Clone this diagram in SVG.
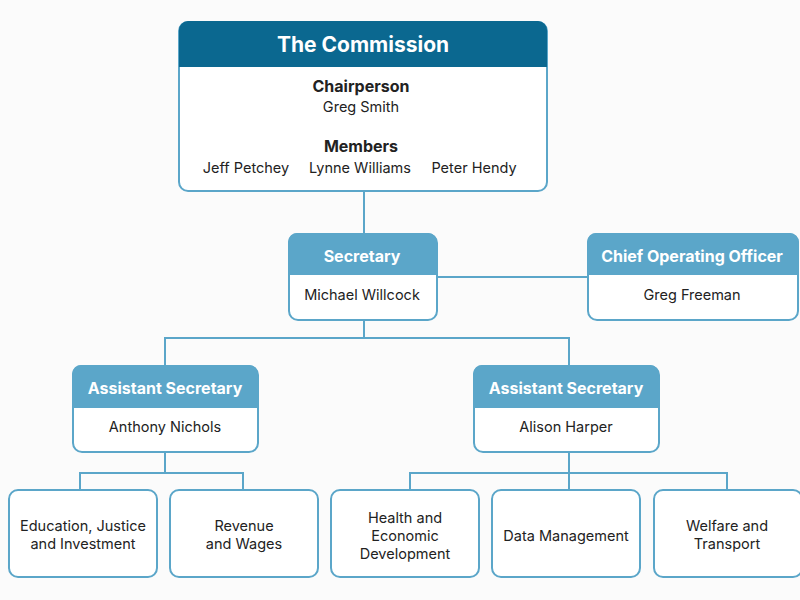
<svg xmlns="http://www.w3.org/2000/svg" width="800" height="600" viewBox="0 0 800 600">
<style>
  .box{fill:#fff;stroke:#5ba6c9;stroke-width:2}
  .hdr{fill:#5ba6c9}
  .hdrDark{fill:#0b6890}
  .conn{fill:none;stroke:#5ba6c9;stroke-width:2}
  text{font-family:Inter,"Open Sans","Liberation Sans",sans-serif;text-anchor:middle;fill:#222}
  .h{font-weight:700;font-size:16px;fill:#fff}
  .t{font-size:14.5px}
  .b{font-weight:700;font-size:16px}
</style>
<rect width="800" height="600" fill="#fbfbfb"/>
<g id="connectors">
  <path class="conn" d="M364,191 V233"/>
  <path class="conn" d="M437,277 H587"/>
  <path class="conn" d="M364,320 V338 M165,365 V338 H569 V365"/>
  <path class="conn" d="M165,452 V473 M80,490 V473 H243 V490"/>
  <path class="conn" d="M569,452 V490 M410,490 V473 H727 V490"/>
</g>
<g id="commission">
  <rect class="box" x="179" y="22" width="368" height="169" rx="9"/>
  <path class="hdrDark" d="M188,21 H538 A9,9 0 0 1 547,30 V67 H179 V30 A9,9 0 0 1 188,21 Z"/>
  <text x="363" y="52" style="font-weight:700;font-size:21px;fill:#fff">The Commission</text>
  <text class="b" x="361" y="92">Chairperson</text>
  <text class="t" x="361" y="112">Greg Smith</text>
  <text class="b" x="361" y="152">Members</text>
  <text class="t" x="246" y="173">Jeff Petchey</text>
  <text class="t" x="360" y="173">Lynne Williams</text>
  <text class="t" x="474" y="173">Peter Hendy</text>
</g>
<g id="secretary">
  <rect class="box" x="289" y="234" width="148" height="86" rx="9"/>
  <path class="hdr" d="M298,233 H428 A9,9 0 0 1 437,242 V275 H288 V242 A9,9 0 0 1 298,233 Z"/>
  <text class="h" x="362" y="262">Secretary</text>
  <text class="t" x="362" y="300">Michael Willcock</text>
</g>
<g id="coo">
  <rect class="box" x="588" y="234" width="210" height="86" rx="9"/>
  <path class="hdr" d="M597,233 H790 A9,9 0 0 1 799,242 V275 H587 V242 A9,9 0 0 1 597,233 Z"/>
  <text class="h" x="692" y="262">Chief Operating Officer</text>
  <text class="t" x="692" y="300">Greg Freeman</text>
</g>
<g id="asst-left">
  <rect class="box" x="73" y="366" width="185" height="86" rx="9"/>
  <path class="hdr" d="M82,365 H249 A9,9 0 0 1 258,374 V408 H72 V374 A9,9 0 0 1 82,365 Z"/>
  <text class="h" x="165" y="394">Assistant Secretary</text>
  <text class="t" x="165" y="432">Anthony Nichols</text>
</g>
<g id="asst-right">
  <rect class="box" x="474" y="366" width="185" height="86" rx="9"/>
  <path class="hdr" d="M483,365 H650 A9,9 0 0 1 659,374 V408 H473 V374 A9,9 0 0 1 483,365 Z"/>
  <text class="h" x="566" y="394">Assistant Secretary</text>
  <text class="t" x="566" y="432">Alison Harper</text>
</g>
<g id="education">
  <rect class="box" x="9" y="490" width="148" height="87" rx="9"/>
  <text class="t" x="83" y="531">Education, Justice</text>
  <text class="t" x="83" y="549">and Investment</text>
</g>
<g id="revenue">
  <rect class="box" x="170" y="490" width="148" height="87" rx="9"/>
  <text class="t" x="244" y="531">Revenue</text>
  <text class="t" x="244" y="549">and Wages</text>
</g>
<g id="health">
  <rect class="box" x="331" y="490" width="148" height="87" rx="9"/>
  <text class="t" x="405" y="523">Health and</text>
  <text class="t" x="405" y="541">Economic</text>
  <text class="t" x="405" y="559">Development</text>
</g>
<g id="data">
  <rect class="box" x="492" y="490" width="148" height="87" rx="9"/>
  <text class="t" x="566" y="541">Data Management</text>
</g>
<g id="welfare">
  <rect class="box" x="654" y="490" width="148" height="87" rx="9"/>
  <text class="t" x="727" y="531">Welfare and</text>
  <text class="t" x="727" y="549">Transport</text>
</g>
</svg>
